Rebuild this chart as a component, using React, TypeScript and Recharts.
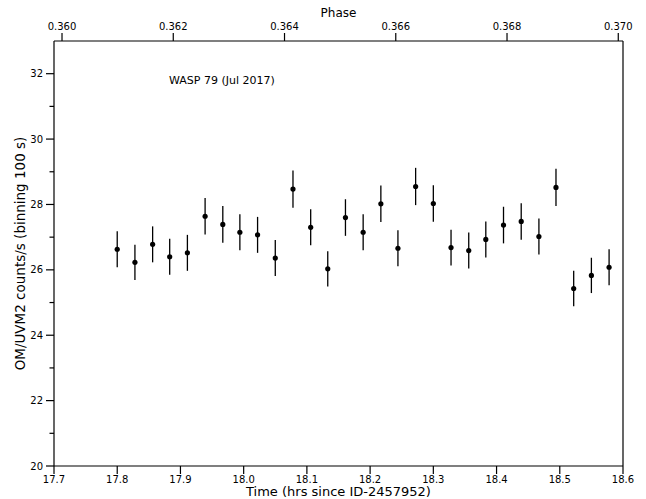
import React from 'react';
import { ScatterChart, Scatter, XAxis, YAxis, ErrorBar, ReferenceLine, Label } from 'recharts';

const FONT = '"DejaVu Sans", Verdana, sans-serif';

const times = [
  17.800, 17.828, 17.856, 17.883, 17.911, 17.939, 17.967, 17.994, 18.022, 18.050,
  18.078, 18.106, 18.133, 18.161, 18.189, 18.217, 18.244, 18.272, 18.300, 18.328,
  18.356, 18.383, 18.411, 18.439, 18.467, 18.494, 18.522, 18.550, 18.578,
];
const rates = [
  26.63, 26.23, 26.78, 26.40, 26.52, 27.64, 27.39, 27.15, 27.07, 26.36,
  28.47, 27.30, 26.03, 27.60, 27.15, 28.02, 26.66, 28.55, 28.03, 26.68,
  26.59, 26.93, 27.37, 27.48, 27.02, 28.52, 25.43, 25.83, 26.08,
];
const errors = [
  0.55, 0.54, 0.55, 0.55, 0.55, 0.56, 0.56, 0.55, 0.55, 0.55,
  0.57, 0.55, 0.54, 0.56, 0.55, 0.56, 0.55, 0.57, 0.56, 0.55,
  0.55, 0.55, 0.56, 0.56, 0.55, 0.57, 0.54, 0.54, 0.55,
];

const timeTicks = [17.7, 17.8, 17.9, 18.0, 18.1, 18.2, 18.3, 18.4, 18.5, 18.6];
const timeDomain = [17.7, 18.6];
const phaseTicks = [0.36, 0.362, 0.364, 0.366, 0.368, 0.37];
const phaseDomain = [0.359856, 0.370085];
const rateTicks = [20, 21, 22, 23, 24, 25, 26, 27, 28, 29, 30, 31, 32];
const rateDomain = [20, 33];

const titleText = 'WASP 79 (Jul 2017)';
const xTitle = 'Time (hrs since ID-2457952)';
const x2Title = 'Phase';
const yTitle = 'OM/UVM2 counts/s (binning 100 s)';

const data = times.map((t, i) => ({ t, rate: rates[i], err: errors[i] }));
// phase range of the observation window (for the top axis only; nothing drawn)
const phaseAnchor = phaseDomain.map((p) => ({ phase: p, rate: rateDomain[0] }));

const Y_TICK_SIZE = 8;
const Y_TICK_MARGIN = 3;

const YTick = (props: any) => {
  const { x, y, payload } = props;
  const v = payload.value;
  const axisX = x + Y_TICK_SIZE + Y_TICK_MARGIN;
  const major = v % 2 === 0;
  return (
    <g>
      <line x1={axisX} x2={axisX - (major ? Y_TICK_SIZE : 4.5)} y1={y} y2={y} stroke="#000" strokeWidth={1.2} />
      {major && (
        <text x={axisX - Y_TICK_SIZE - Y_TICK_MARGIN} y={y} dy="0.36em" textAnchor="end" fontSize={10} fill="#000" fontFamily={FONT}>
          {v}
        </text>
      )}
    </g>
  );
};

const Dot = (props: any) => <circle cx={props.cx} cy={props.cy} r={2.6} fill="#000" />;
const NoDot = () => <g />;

export default function App() {
  return (
    <div style={{ position: 'absolute', left: 0, top: 0, width: 646, height: 499, background: '#fff' }}>
      <ScatterChart width={646} height={499} margin={{ top: 0, right: 23, bottom: 0, left: 0 }} style={{ fontFamily: FONT }}>
        <XAxis
          xAxisId="time"
          dataKey="t"
          type="number"
          domain={timeDomain}
          ticks={timeTicks}
          interval={0}
          allowDataOverflow
          orientation="bottom"
          height={33}
          tickSize={8}
          tickMargin={2}
          stroke="#000"
          strokeWidth={1.2}
          tick={{ fill: '#000', fontSize: 10, fontFamily: FONT }}
          tickFormatter={(v: number) => v.toFixed(1)}
        >
          <Label
            content={(p: any) => {
              const vb = p.viewBox;
              return (
                <text x={vb.x + vb.width / 2} y={vb.y + 30} textAnchor="middle" fontSize={13} fill="#000" fontFamily={FONT}>
                  {xTitle}
                </text>
              );
            }}
          />
        </XAxis>
        <XAxis
          xAxisId="phase"
          dataKey="phase"
          type="number"
          domain={phaseDomain}
          ticks={phaseTicks}
          interval={0}
          allowDataOverflow
          orientation="top"
          height={41}
          tickSize={8}
          tickMargin={3}
          stroke="#000"
          strokeWidth={1.2}
          tick={{ fill: '#000', fontSize: 10, fontFamily: FONT }}
          tickFormatter={(v: number) => v.toFixed(3)}
        >
          <Label
            content={(p: any) => {
              const vb = p.viewBox;
              return (
                <text x={vb.x + vb.width / 2} y={vb.y + 16.5} textAnchor="middle" fontSize={12} fill="#000" fontFamily={FONT}>
                  {x2Title}
                </text>
              );
            }}
          />
        </XAxis>
        <YAxis
          yAxisId="rate"
          dataKey="rate"
          type="number"
          domain={rateDomain}
          ticks={rateTicks}
          interval={0}
          allowDataOverflow
          width={54}
          tickSize={Y_TICK_SIZE}
          tickMargin={Y_TICK_MARGIN}
          tickLine={false}
          stroke="#000"
          strokeWidth={1.2}
          tick={<YTick />}
        >
          <Label
            content={(p: any) => {
              const vb = p.viewBox;
              const cx = vb.x + 20;
              const cy = vb.y + vb.height / 2;
              return (
                <text x={cx} y={cy} dy="0.36em" textAnchor="middle" fontSize={13.5} fill="#000" fontFamily={FONT} transform={`rotate(-90 ${cx} ${cy})`}>
                  {yTitle}
                </text>
              );
            }}
          />
        </YAxis>
        <ReferenceLine xAxisId="time" yAxisId="rate" x={18.6} stroke="#000" strokeWidth={1.2} />
        <Scatter
          xAxisId="phase"
          yAxisId="rate"
          data={phaseAnchor}
          dataKey="rate"
          shape={<NoDot />}
          legendType="none"
          isAnimationActive={false}
        />
        <Scatter xAxisId="time" yAxisId="rate" data={data} dataKey="rate" fill="#000" shape={<Dot />} isAnimationActive={false}>
          <ErrorBar dataKey="err" direction="y" width={0} stroke="#000" strokeWidth={1.3} isAnimationActive={false} />
        </Scatter>
      </ScatterChart>
      <div
        style={{
          position: 'absolute',
          left: 169,
          top: 73.5,
          fontFamily: FONT,
          fontSize: 11,
          lineHeight: '13px',
          color: '#000',
          whiteSpace: 'nowrap',
        }}
      >
        {titleText}
      </div>
    </div>
  );
}
